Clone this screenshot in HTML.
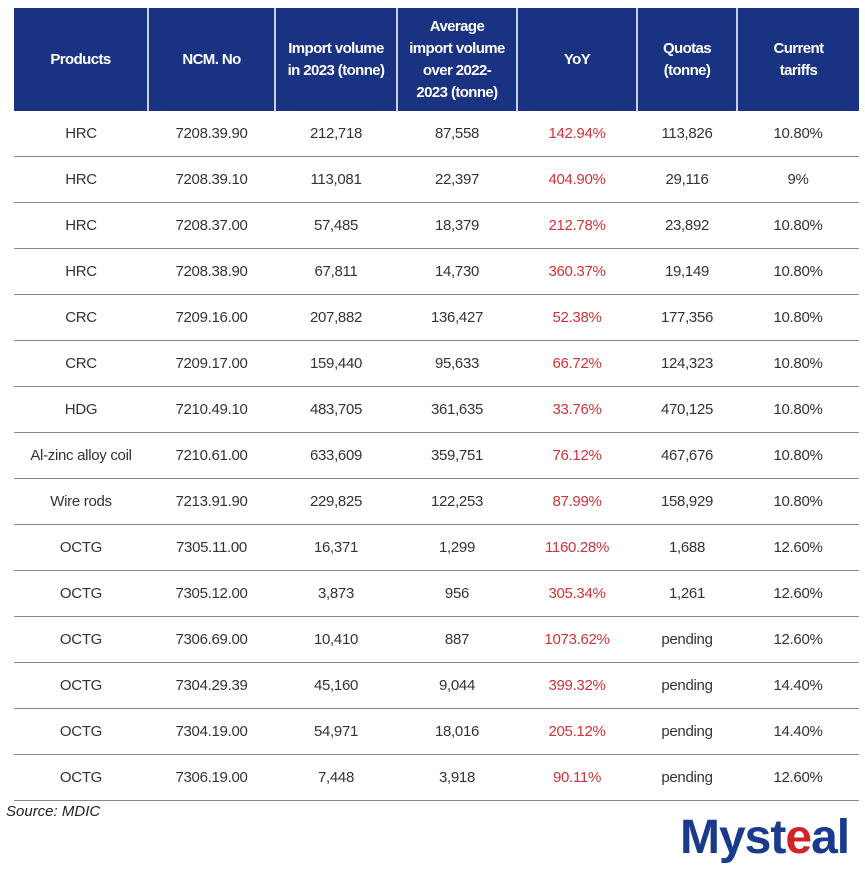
<!DOCTYPE html>
<html><head><meta charset="utf-8"><style>
body{margin:0;width:865px;height:880px;background:#fff;font-family:"Liberation Sans",sans-serif;position:relative;overflow:hidden}
table{position:absolute;left:14px;top:8px;border-collapse:collapse;width:845px;table-layout:fixed}
th{background:#1a3282;color:#fff;font-size:15px;font-weight:bold;height:103px;border-left:2px solid #c8cde0;padding:0;line-height:22px;letter-spacing:-0.6px}
th:first-child{border-left:none}
td{height:45px;text-align:center;font-size:15px;color:#333;border-bottom:1px solid #888;padding:0;letter-spacing:-0.3px}
td.r{color:#d0343a}
.src{position:absolute;left:6px;top:803px;font-style:italic;font-size:15px;color:#222}
.logo{position:absolute;left:680px;top:810px;font-size:48px;font-weight:bold;color:#1a3a8c;letter-spacing:-1px}
.logo span{color:#d3232a}
</style></head><body>
<table>
<colgroup><col style="width:134px"><col style="width:127px"><col style="width:122px"><col style="width:120px"><col style="width:120px"><col style="width:100px"><col style="width:122px"></colgroup>
<tr><th>Products</th><th>NCM. No</th><th>Import volume<br>in 2023 (tonne)</th><th>Average<br>import volume<br>over 2022-<br>2023 (tonne)</th><th>YoY</th><th>Quotas<br>(tonne)</th><th>Current<br>tariffs</th></tr>
<tr><td>HRC</td><td>7208.39.90</td><td>212,718</td><td>87,558</td><td class="r">142.94%</td><td>113,826</td><td>10.80%</td></tr>
<tr><td>HRC</td><td>7208.39.10</td><td>113,081</td><td>22,397</td><td class="r">404.90%</td><td>29,116</td><td>9%</td></tr>
<tr><td>HRC</td><td>7208.37.00</td><td>57,485</td><td>18,379</td><td class="r">212.78%</td><td>23,892</td><td>10.80%</td></tr>
<tr><td>HRC</td><td>7208.38.90</td><td>67,811</td><td>14,730</td><td class="r">360.37%</td><td>19,149</td><td>10.80%</td></tr>
<tr><td>CRC</td><td>7209.16.00</td><td>207,882</td><td>136,427</td><td class="r">52.38%</td><td>177,356</td><td>10.80%</td></tr>
<tr><td>CRC</td><td>7209.17.00</td><td>159,440</td><td>95,633</td><td class="r">66.72%</td><td>124,323</td><td>10.80%</td></tr>
<tr><td>HDG</td><td>7210.49.10</td><td>483,705</td><td>361,635</td><td class="r">33.76%</td><td>470,125</td><td>10.80%</td></tr>
<tr><td>Al-zinc alloy coil</td><td>7210.61.00</td><td>633,609</td><td>359,751</td><td class="r">76.12%</td><td>467,676</td><td>10.80%</td></tr>
<tr><td>Wire rods</td><td>7213.91.90</td><td>229,825</td><td>122,253</td><td class="r">87.99%</td><td>158,929</td><td>10.80%</td></tr>
<tr><td>OCTG</td><td>7305.11.00</td><td>16,371</td><td>1,299</td><td class="r">1160.28%</td><td>1,688</td><td>12.60%</td></tr>
<tr><td>OCTG</td><td>7305.12.00</td><td>3,873</td><td>956</td><td class="r">305.34%</td><td>1,261</td><td>12.60%</td></tr>
<tr><td>OCTG</td><td>7306.69.00</td><td>10,410</td><td>887</td><td class="r">1073.62%</td><td>pending</td><td>12.60%</td></tr>
<tr><td>OCTG</td><td>7304.29.39</td><td>45,160</td><td>9,044</td><td class="r">399.32%</td><td>pending</td><td>14.40%</td></tr>
<tr><td>OCTG</td><td>7304.19.00</td><td>54,971</td><td>18,016</td><td class="r">205.12%</td><td>pending</td><td>14.40%</td></tr>
<tr><td>OCTG</td><td>7306.19.00</td><td>7,448</td><td>3,918</td><td class="r">90.11%</td><td>pending</td><td>12.60%</td></tr>
</table>
<div class="src">Source: MDIC</div>
<div class="logo">Myst<span>e</span>al</div>
</body></html>
